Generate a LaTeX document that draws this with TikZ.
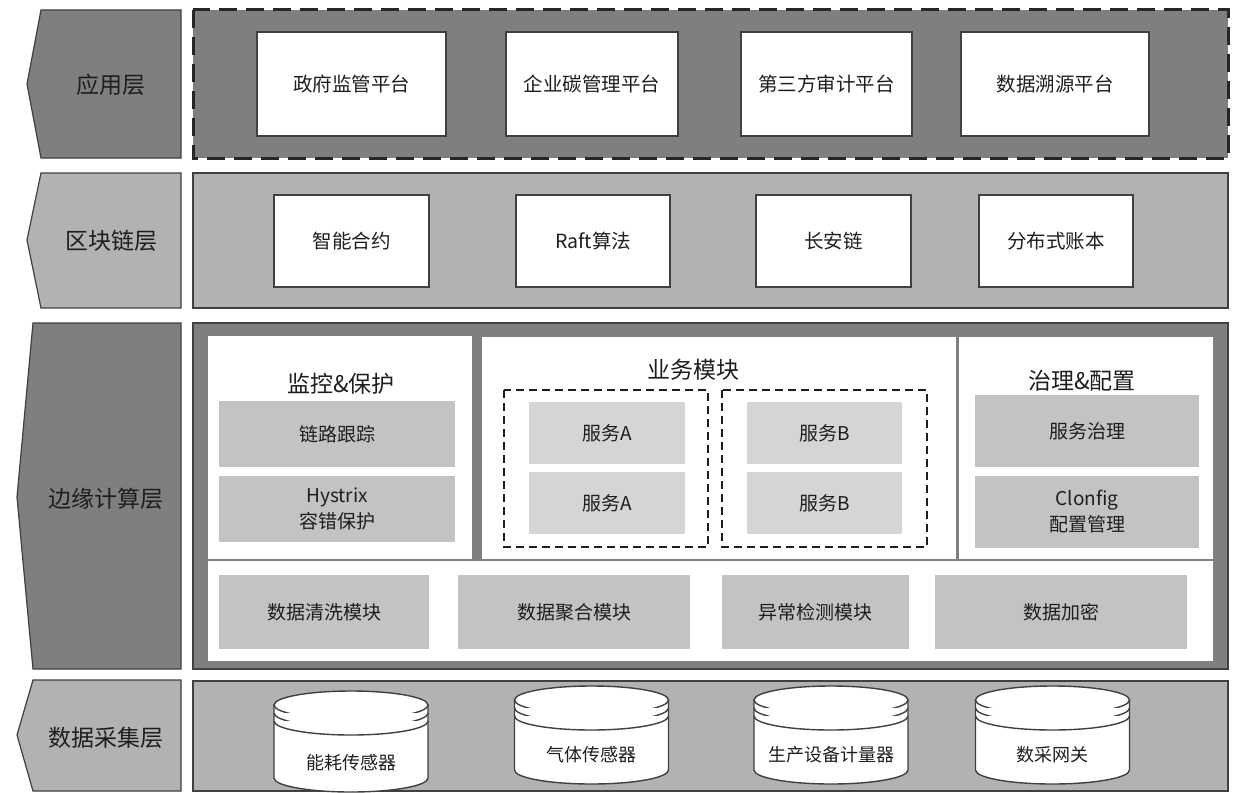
\documentclass[tikz,border=0pt]{standalone}
\usepackage{fontspec}
\setmainfont{Noto Sans CJK SC}
\definecolor{dk}{HTML}{7F7F7F}
\definecolor{lt}{HTML}{B2B2B2}
\definecolor{edge}{HTML}{404040}
\definecolor{mod}{HTML}{C3C3C3}
\definecolor{svc}{HTML}{D5D5D5}
\definecolor{txt}{HTML}{1E1E1E}
\newcommand{\mycyl}[5]{%
  \filldraw[cylstyle] ({#2-77},#3) -- ({#2-77},#4) arc[start angle=180,end angle=0,x radius=77,y radius=14] -- ({#2+77},#3) -- cycle;
  \filldraw[cylstyle] (#2,#3) ellipse[x radius=77,y radius=14];
  \draw[cylstyle] ({#2-77},{#3+8}) arc[start angle=180,end angle=0,x radius=77,y radius=14];
  \draw[cylstyle] ({#2-77},{#3+16}) arc[start angle=180,end angle=0,x radius=77,y radius=14];
  \node[cyltext] (#1) at (#2,{#4-15}) {#5};
}
\begin{document}
\begin{tikzpicture}[x=1pt,y=-1pt,
  every node/.style={inner sep=0pt,outer sep=0pt,text=txt},
  labdark/.style={fill=dk,draw=edge,line width=1.2pt},
  lablight/.style={fill=lt,draw=edge,line width=1.2pt},
  labtext/.style={font=\fontsize{23}{27}\selectfont},
  wbox/.style={fill=white,draw=edge,line width=1.2pt,font=\fontsize{19.5}{24}\selectfont},
  gbox/.style={fill=mod,draw=none,align=center,font=\fontsize{19}{26}\selectfont},
  sbox/.style={fill=svc,draw=none,font=\fontsize{19}{24}\selectfont},
  title/.style={font=\fontsize{23}{27}\selectfont},
  dbox/.style={draw=txt,line width=1.4pt,dash pattern=on 8pt off 5pt},
  cylstyle/.style={fill=white,draw=edge,line width=1.4pt},
  cyltext/.style={font=\fontsize{18}{22}\selectfont}
]
\useasboundingbox (0,0) rectangle (1236,792);
\fill[white] (0,0) rectangle (1236,792);

% ---- left labels ----
\draw[labdark] (41,10) -- (181,10) -- (181,158) -- (41,158) -- (27,84) -- cycle;
\node[labtext] (L1) at (111,85) {应用层};
\draw[lablight] (41,173) -- (181,173) -- (181,308) -- (41,308) -- (27,240) -- cycle;
\node[labtext] (L2) at (111,241) {区块链层};
\draw[labdark] (33,323) -- (181,323) -- (181,669) -- (33,669) -- (17,497) -- cycle;
\node[labtext] (L3) at (106,499) {边缘计算层};
\draw[lablight] (33,680) -- (181,680) -- (181,791) -- (33,791) -- (17,735) -- cycle;
\node[labtext] (L4) at (106,738) {数据采集层};

% ---- application layer ----
\filldraw[fill=dk,draw=black!85,line width=3pt,dash pattern=on 18pt off 9pt] (193,10) rectangle (1228,158);
\node[wbox,minimum width=189pt,minimum height=104pt] (A1) at (351.5,84) {政府监管平台};
\node[wbox,minimum width=172pt,minimum height=104pt] (A2) at (592,84) {企业碳管理平台};
\node[wbox,minimum width=171pt,minimum height=104pt] (A3) at (826.5,84) {第三方审计平台};
\node[wbox,minimum width=188pt,minimum height=104pt] (A4) at (1055,84) {数据溯源平台};

% ---- blockchain layer ----
\filldraw[fill=lt,draw=edge,line width=1.2pt] (193,173) rectangle (1228,308);
\node[wbox,minimum width=155pt,minimum height=92pt] (B1) at (351.5,241) {智能合约};
\node[wbox,minimum width=154pt,minimum height=92pt] (B2) at (593,241) {Raft算法};
\node[wbox,minimum width=155pt,minimum height=92pt] (B3) at (833.5,241) {长安链};
\node[wbox,minimum width=154pt,minimum height=92pt] (B4) at (1056,241) {分布式账本};

% ---- edge computing layer ----
\filldraw[fill=dk,draw=edge,line width=1.4pt] (193,323) rectangle (1228,669);
\fill[white] (208,561) rectangle (1213,661);
\fill[white] (208,336) rectangle (472,559);
\fill[white] (482,337) rectangle (956,559);
\fill[white] (959,337) rectangle (1213,559);

\node[title] (T1) at (341,384) {监控\&保护};
\node[gbox,minimum width=236pt,minimum height=66pt] (E1) at (337,434) {链路跟踪};
\node[gbox,minimum width=236pt,minimum height=66pt] (E2) at (337,509) {Hystrix\\容错保护};

\node[title] (T2) at (693,370) {业务模块};
\draw[dbox] (504,390) rectangle (708,547);
\draw[dbox] (722,390) rectangle (927,547);
\node[sbox,minimum width=156pt,minimum height=62pt] (S1) at (607,433) {服务A};
\node[sbox,minimum width=156pt,minimum height=62pt] (S2) at (607,503) {服务A};
\node[sbox,minimum width=155pt,minimum height=62pt] (S3) at (824.5,433) {服务B};
\node[sbox,minimum width=155pt,minimum height=62pt] (S4) at (824.5,503) {服务B};

\node[title] (T3) at (1082,381) {治理\&配置};
\node[gbox,minimum width=224pt,minimum height=72pt] (G1) at (1087,431) {服务治理};
\node[gbox,minimum width=224pt,minimum height=72pt] (G2) at (1087,512) {Clonfig\\配置管理};

\node[gbox,minimum width=210pt,minimum height=74pt] (M1) at (324,612) {数据清洗模块};
\node[gbox,minimum width=232pt,minimum height=74pt] (M2) at (574,612) {数据聚合模块};
\node[gbox,minimum width=187pt,minimum height=74pt] (M3) at (815.5,612) {异常检测模块};
\node[gbox,minimum width=252pt,minimum height=74pt] (M4) at (1061,612) {数据加密};

% ---- data collection layer ----
\filldraw[fill=lt,draw=edge,line width=1.2pt] (193,681) rectangle (1228,791);
\mycyl{C1}{351}{705}{778}{能耗传感器}
\mycyl{C2}{591.5}{700}{770}{气体传感器}
\mycyl{C3}{831}{700}{770}{生产设备计量器}
\mycyl{C4}{1052.5}{700}{770}{数采网关}
\end{tikzpicture}
\end{document}
